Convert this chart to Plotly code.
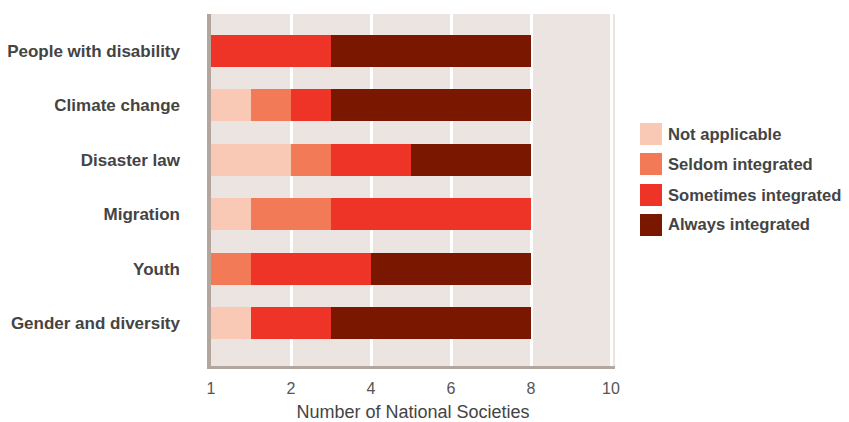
import plotly.graph_objects as go

categories = ["People with disability", "Climate change", "Disaster law",
              "Migration", "Youth", "Gender and diversity"]
series_names = ["Not applicable", "Seldom integrated", "Sometimes integrated", "Always integrated"]
not_applicable = [0, 1, 2, 1, 0, 1]
seldom = [0, 1, 1, 2, 1, 0]
sometimes = [3, 1, 2, 5, 3, 2]
always = [5, 5, 3, 0, 4, 5]
tick_vals = [0, 2, 4, 6, 8, 10]
tick_text = ["1", "2", "4", "6", "8", "10"]

colors = ["#f9c9b5", "#f37a57", "#ee3327", "#7a1700"]
series = [not_applicable, seldom, sometimes, always]

# page has an 8px body margin; figure drawn at (8, 8)
OFF = 8
W, H = 849 - OFF, 422 - OFF
PL, PR, PT, PB = 211, 615, 14, 366  # plot area in page pixels
L, R, T, B = PL - OFF, W + OFF - PR, PT - OFF, H + OFF - PB

fig = go.Figure()
for name, vals, col in zip(series_names, series, colors):
    fig.add_trace(go.Bar(
        y=categories, x=vals, name=name, orientation="h",
        marker=dict(color=col, line=dict(width=0)),
        width=0.59, showlegend=False,
    ))

pw = W - L - R
ph = H - T - B
FONT = "Liberation Sans, Arial, Helvetica"
shapes = [
    dict(type="rect", xref="paper", yref="paper", x0=-4 / pw, x1=0,
         y0=-3 / ph, y1=1, fillcolor="#b3a69f", line=dict(width=0), layer="above"),
    dict(type="rect", xref="paper", yref="paper", x0=-4 / pw, x1=1,
         y0=-3 / ph, y1=0, fillcolor="#b3a69f", line=dict(width=0), layer="above"),
]
annotations = []
leg_x0 = 640
leg_y = [134, 164, 195, 225]
for name, col, yc in zip(series_names, colors, leg_y):
    shapes.append(dict(type="rect", xref="paper", yref="paper",
                       x0=(leg_x0 - PL) / pw, x1=(leg_x0 + 22 - PL) / pw,
                       y0=(PB - (yc + 11)) / ph, y1=(PB - (yc - 11)) / ph,
                       fillcolor=col, line=dict(width=0)))
    annotations.append(dict(xref="paper", yref="paper", x=(666 - PL) / pw,
                            y=(PB - yc) / ph, text="<b>" + name + "</b>",
                            showarrow=False, xanchor="left", yanchor="middle",
                            font=dict(size=16.6, color="#444444", family=FONT)))

fig.update_layout(
    width=W, height=H, barmode="stack",
    margin=dict(l=L, r=R, t=T, b=B, autoexpand=False),
    paper_bgcolor="white", plot_bgcolor="#ebe4e1",
    font=dict(family=FONT, color="#444444"),
    shapes=shapes, annotations=annotations,
    xaxis=dict(range=[0, 10.1], tickvals=tick_vals, ticktext=tick_text,
               showgrid=True, gridcolor="white", gridwidth=3, zeroline=False,
               tickfont=dict(size=16, color="#555555"), ticks="",
               ticklabelstandoff=11, automargin=False,
               title=dict(text="Number of National Societies", font=dict(size=18, color="#444444"), standoff=9)),
    yaxis=dict(categoryorder="array", categoryarray=categories,
               range=[5.79, -0.68], showgrid=False, zeroline=False,
               ticklabelstandoff=30, automargin=False,
               tickfont=dict(size=17, color="#444444", family=FONT, weight="bold")),
)

fig.write_html("out.html")
